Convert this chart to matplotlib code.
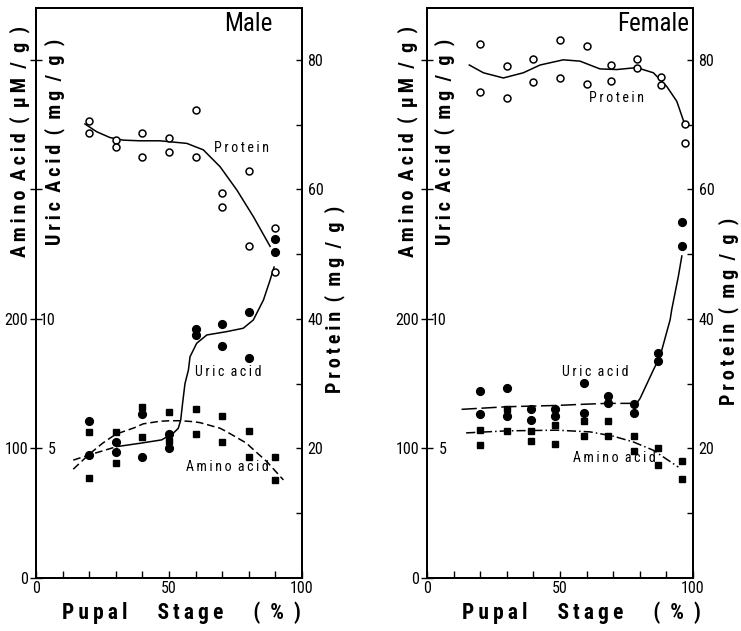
import matplotlib
matplotlib.use("Agg")
import matplotlib.pyplot as plt

FONT = ["Roboto Condensed", "Liberation Sans Narrow", "Open Sans Condensed", "Roboto", "DejaVu Sans"]
plt.rcParams["font.family"] = FONT

# ---------------- data ----------------
# Male panel
male_stage = [20, 30, 40, 50, 60, 70, 80, 90]
male_protein_hi = [70.6, 67.6, 68.7, 67.9, 72.3, 59.4, 62.8, 54.1]
male_protein_lo = [68.7, 66.6, 65.0, 65.7, 65.0, 57.3, 51.3, 47.2]
male_uric_hi = [6.06, 5.26, 6.32, 5.56, 9.60, 9.80, 10.27, 13.10]
male_uric_lo = [4.75, 4.88, 4.66, 5.01, 9.38, 8.96, 8.48, 12.60]
male_amino_hi = [112.5, 112.5, 132.2, 128.4, 130.2, 125.1, 113.5, 93.2]
male_amino_lo = [77.4, 88.5, 109.1, 106.0, 111.2, 105.2, 93.2, 75.7]

male_protein_curve_x = [18.4, 22.8, 27.8, 32.8, 39.1, 46.6, 56.7, 62.9, 69.2, 75.5, 81.7, 88.0]
male_protein_curve_y = [70.1, 68.9, 68.0, 67.6, 67.5, 67.5, 67.1, 66.1, 63.5, 59.9, 55.8, 51.2]
male_uric_curve_x = [14.0, 20.0, 30.3, 39.1, 47.2, 51.6, 53.5, 54.4, 55.1, 56.0, 57.3, 57.9,
                     60.4, 64.2, 71.7, 77.9, 81.7, 85.5, 88.0, 89.5]
male_uric_curve_y = [4.55, 4.75, 5.07, 5.20, 5.33, 5.59, 5.78, 6.10, 6.74, 7.50, 8.03, 8.54,
                     9.06, 9.38, 9.51, 9.64, 9.96, 10.73, 11.50, 12.00]
male_amino_curve_x = [14.0, 20.0, 25.0, 30.0, 37.0, 40.3, 46.6, 50.4, 54.1, 59.1, 61.7,
                      69.2, 71.7, 79.2, 80.5, 86.7, 93.0]
male_amino_curve_y = [84.0, 95.5, 104.0, 111.0, 116.0, 119.0, 121.0, 121.4, 121.4, 120.7, 119.9,
                      115.6, 112.9, 104.0, 101.4, 90.0, 75.7]

# Female panel
female_stage = [20, 30, 39, 48, 59, 68, 78, 87, 96]
female_protein_stage = [20, 30, 40, 50, 60, 69, 79, 88, 97]
female_protein_hi = [82.4, 79.0, 80.2, 83.0, 82.2, 79.2, 80.2, 77.3, 70.1]
female_protein_lo = [75.1, 74.1, 76.6, 77.2, 76.3, 76.7, 78.7, 76.1, 67.2]
female_uric_hi = [7.23, 7.34, 6.53, 6.53, 7.54, 7.03, 6.70, 8.70, 13.75]
female_uric_lo = [6.32, 6.25, 6.09, 6.25, 6.37, 6.74, 6.35, 8.38, 12.82]
female_amino_hi = [114.1, 130.2, 113.4, 117.8, 121.1, 121.1, 109.5, 100.7, 90.1]
female_amino_lo = [102.3, 113.6, 105.6, 103.8, 110.0, 109.5, 98.1, 87.0, 76.6]

female_protein_curve_x = [15.9, 21.2, 28.7, 36.2, 42.5, 51.2, 57.5, 65.0, 71.3, 78.8, 85.1, 90.1, 93.9, 97.0]
female_protein_curve_y = [79.2, 78.0, 77.2, 78.0, 79.2, 80.0, 79.8, 78.6, 78.5, 78.8, 78.0, 75.9, 73.6, 69.9]
female_uric_curve_x = [13.0, 30.0, 48.8, 57.5, 67.6, 78.8, 80.1, 85.1, 87.6, 91.4, 92.0, 94.5, 95.8]
female_uric_curve_y = [6.51, 6.61, 6.66, 6.70, 6.74, 6.74, 6.93, 8.03, 8.55, 9.97, 10.36, 11.65, 12.43]
female_amino_curve_x = [14.7, 30.0, 48.8, 61.3, 70.0, 77.6, 85.1, 94.5]
female_amino_curve_y = [112.0, 113.6, 114.1, 112.8, 109.5, 105.0, 98.6, 85.6]

amino_ticks = [0, 100, 200, 300, 400]
amino_ticklabels = ["0", "100", "200", "", ""]
uric_ticks = [5, 10]
uric_ticklabels = ["5", "10"]
protein_ticks = [10, 20, 30, 40, 50, 60, 70, 80]
protein_ticklabels = ["", "20", "", "40", "", "60", "", "80"]
stage_ticks = [0, 10, 20, 30, 40, 50, 60, 70, 80, 90, 100]
stage_ticklabels = ["0", "", "", "", "", "50", "", "", "", "", "100"]

# ---------------- drawing ----------------
AMINO_TOP = 440.0
fig = plt.figure(figsize=(7.41, 6.31), dpi=100)

LW = 1.1
TICK_FS = 11.5
TS = "\u2009"  # thin space used as letter spacing


def spaced(text):
    words = text.split(" ")
    return "  ".join(TS.join(w) for w in words)


def panel(left, title, title_x, uric_split, uric_dash, amino_dash,
          stage, p_stage, p_hi, p_lo, u_hi, u_lo, a_hi, a_lo,
          pcx, pcy, ucx, ucy, acx, acy, labels, ylab_x, plab, xlab_x):
    ax = fig.add_axes([left, 0.0840, 0.3590, 0.9033])
    ax.set_xlim(0, 100)
    ax.set_ylim(0, AMINO_TOP)
    axu = ax.twinx()
    axu.set_ylim(0, AMINO_TOP / 20)
    axp = ax.twinx()
    axp.set_ylim(0, AMINO_TOP / 5)
    for a in (ax, axu, axp):
        for s in a.spines.values():
            s.set_linewidth(1.2)
        a.patch.set_visible(False)

    ax.set_xticks(stage_ticks)
    ax.set_xticklabels(stage_ticklabels)
    ax.tick_params(axis="x", direction="in", length=5, width=1.0, pad=2.5,
                   labelsize=TICK_FS)
    ax.set_yticks(amino_ticks)
    ax.set_yticklabels(amino_ticklabels)
    ax.tick_params(axis="y", direction="inout", length=9, width=1.0, pad=1,
                   labelsize=TICK_FS)
    axu.yaxis.tick_left()
    axu.yaxis.set_label_position("left")
    axu.set_yticks(uric_ticks)
    axu.set_yticklabels(uric_ticklabels)
    axu.tick_params(axis="y", length=0, pad=-14, labelsize=TICK_FS)
    axp.set_yticks(protein_ticks)
    axp.set_yticklabels(protein_ticklabels)
    axp.tick_params(axis="y", direction="in", length=4, width=1.0, pad=4,
                    labelsize=TICK_FS)

    axp.plot(pcx, pcy, color="black", lw=LW)
    axu.plot(ucx[:uric_split + 1], ucy[:uric_split + 1], color="black", lw=LW,
             linestyle=uric_dash)
    axu.plot(ucx[uric_split:], ucy[uric_split:], color="black", lw=LW)
    ax.plot(acx, acy, color="black", lw=LW, linestyle=amino_dash)

    for ys in (p_hi, p_lo):
        axp.plot(p_stage, ys, linestyle="none", marker="o", ms=5.0,
                 mfc="white", mec="black", mew=1.1)
    for ys in (u_hi, u_lo):
        axu.plot(stage, ys, linestyle="none", marker="o", ms=5.6,
                 mfc="black", mec="black")
    for ys in (a_hi, a_lo):
        ax.plot(stage, ys, linestyle="none", marker="s", ms=3.8,
                mfc="black", mec="black")

    (px, py), (ux, uy), (ax_, ay) = labels
    axp.text(px, py, spaced("Protein"), fontsize=10, ha="center", va="center")
    ax.text(ux, uy, spaced("Uric acid"), fontsize=10, ha="center", va="center")
    ax.text(ax_, ay, spaced("Amino acid"), fontsize=10, ha="center", va="center")

    ax.text(title_x, 0.972, title, transform=ax.transAxes, fontsize=18,
            ha="center", va="center")

    ax.set_ylabel(spaced("Amino Acid ( μM / g )"), fontsize=14.5,
                  fontweight="bold", va="center", ha="center")
    ax.yaxis.set_label_coords(ylab_x[0], 0.766)
    axu.set_ylabel(spaced("Uric Acid ( mg / g )"), fontsize=14.5,
                   fontweight="bold", va="center", ha="center")
    axu.yaxis.set_label_coords(ylab_x[1], 0.766)
    axp.set_ylabel(spaced("Protein ( mg / g )"), fontsize=14.5,
                   fontweight="bold", va="center", ha="center", rotation=90)
    axp.yaxis.set_label_coords(plab[0], plab[1])
    ax.set_xlabel(spaced("Pupal   Stage   ( % )"), fontsize=15.5,
                  fontweight="bold", va="center", ha="center")
    ax.xaxis.set_label_coords(xlab_x, -0.061)
    return ax


panel(36 / 741, "Male", 0.797, 2, (0, (5, 2.5)), (0, (5, 2.5)),
      male_stage, male_stage, male_protein_hi, male_protein_lo,
      male_uric_hi, male_uric_lo, male_amino_hi, male_amino_lo,
      male_protein_curve_x, male_protein_curve_y,
      male_uric_curve_x, male_uric_curve_y,
      male_amino_curve_x, male_amino_curve_y,
      [(77.3, 66.4), (72.2, 159.3), (72.0, 85.9)],
      (-0.060, 0.0714), (1.122, 0.488), 0.545)

panel(427 / 741, "Female", 0.849, 5, (0, (10, 3)), (0, (6, 2, 1, 2)),
      female_stage, female_protein_stage, female_protein_hi, female_protein_lo,
      female_uric_hi, female_uric_lo, female_amino_hi, female_amino_lo,
      female_protein_curve_x, female_protein_curve_y,
      female_uric_curve_x, female_uric_curve_y,
      female_amino_curve_x, female_amino_curve_y,
      [(71.1, 74.1), (63.2, 159.4), (70.3, 92.9)],
      (-0.0714, 0.0677), (1.133, 0.467), 0.582)

fig.savefig("out.png", dpi=100)
